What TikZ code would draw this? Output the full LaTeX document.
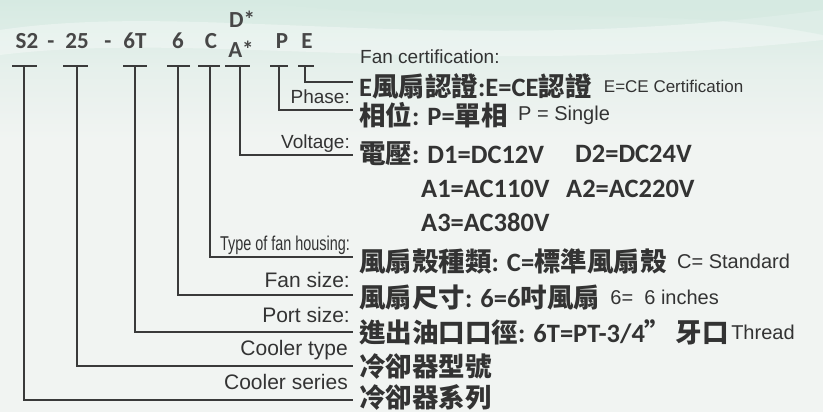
\documentclass[tikz,border=0pt]{standalone}
\usepackage{fontspec}
\usepackage{graphicx}
\setmainfont{Liberation Sans}
\newfontfamily\cjk{Noto Sans CJK TC}
\newfontfamily\lat{Carlito}
\newcommand\zh[1]{{\cjk #1}}
\usetikzlibrary{calc}
\definecolor{ink}{HTML}{333333}
\definecolor{wire}{HTML}{3A3A3A}
\definecolor{bgtop}{HTML}{D6EAE2}
\definecolor{bgbot}{HTML}{F1F4F2}
\tikzset{
  wirel/.style={draw=wire,line width=1.6pt},
  code/.style={anchor=base,inner sep=0pt,text=ink!90,font=\lat\bfseries\fontsize{23bp}{25bp}\selectfont},
  big/.style={anchor=west,inner sep=0pt,text=ink,font=\lat\bfseries\fontsize{26.5bp}{29bp}\selectfont},
  en/.style={anchor=base east,inner sep=0pt,text=ink,font=\fontsize{19bp}{21bp}\selectfont},
  enb/.style={anchor=base east,inner sep=0pt,text=ink,font=\fontsize{21bp}{23bp}\selectfont},
  small/.style={anchor=west,inner sep=0pt,text=ink,font=\fontsize{17bp}{19bp}\selectfont},
  mid/.style={anchor=west,inner sep=0pt,text=ink,font=\fontsize{20bp}{22bp}\selectfont},
}
\begin{document}
\begin{tikzpicture}[x=1bp,y=-1bp]
\useasboundingbox (0,0) rectangle (823,412);
\shade[top color=bgtop,bottom color=bgbot,middle color=bgbot!60!bgtop] (0,0) rectangle (823,140);
\fill[bgbot] (0,140) rectangle (823,412);
\fill[white,opacity=0.35] (0,30) .. controls (200,0) and (450,60) .. (823,10) -- (823,40) .. controls (450,80) and (200,30) .. (0,55) -- cycle;
\fill[bgtop,opacity=0.5] (250,0) .. controls (450,30) and (650,0) .. (823,35) -- (823,0) -- cycle;

% code letters
\node[code] (s2) at (27,48) {S2};
\node[code] (d1) at (51,48) {-};
\node[code] (n25) at (77,48) {25};
\node[code] (d2) at (108,48) {-};
\node[code] (t6) at (135,48) {6T};
\node[code] (f6) at (178,48) {6};
\node[code] (cc) at (211,48) {C};
\node[code] (dd) at (242,27) {D*};
\node[code] (aa) at (241,57) {A*};
\node[code] (pp) at (282,48) {P};
\node[code] (ee) at (307,48) {E};

% T bars and connectors
\foreach \l/\r/\v/\n in {12/37/24/s2,63/88/77/n25,123/147/135/t6,167/190/178/f6,198/220/210/c,225/250/240/a,270/288/279/p,298/314/305/e}{
  \draw[wirel] (\l,66) -- (\r,66);
  \coordinate (v\n) at (\v,66);
}
\coordinate (ende) at (353,82);
\coordinate (endp) at (353,110);
\coordinate (enda) at (353,155);
\coordinate (endc) at (353,257);
\coordinate (endf) at (353,295);
\coordinate (endt) at (353,332);
\coordinate (endn) at (353,366);
\coordinate (ends) at (353,400);
\draw[wirel] (ve) |- (ende);
\draw[wirel] (vp) |- (endp);
\draw[wirel] (va) |- (enda);
\draw[wirel] (vc) |- (endc);
\draw[wirel] (vf6) |- (endf);
\draw[wirel] (vt6) |- (endt);
\draw[wirel] (vn25) |- (endn);
\draw[wirel] (vs2) |- (ends);

% english labels
\node[small,anchor=base west,font=\fontsize{19bp}{21bp}\selectfont] (lcert) at (360,63) {Fan certification:};
\node[en] (lph) at (350,103) {Phase:};
\node[en] (lvo) at (350,148) {Voltage:};
\node[en] (lty) at (350,250) {\scalebox{0.72}[1]{\fontsize{20bp}{22bp}\selectfont Type of fan housing:}};
\node[enb] (lfs) at (350,287) {Fan size:};
\node[enb] (lps) at (350,322) {Port size:};
\node[enb] (lct) at (348,355) {Cooler type};
\node[enb] (lcs) at (348,389) {Cooler series};

% chinese lines
\node[big] (c1) at (359,86) {E\zh{風扇認證}:E=CE\zh{認證}};
\node[small] (c1e) at ($(c1.east)+(12,0)$) {E=CE Certification};
\node[big] (c2) at (359,115) {\zh{相位}: P=\zh{單相}};
\node[mid] (c2e) at ($(c2.east)+(10,0)$) {P = Single};
\node[big] (c3) at (359,154) {\zh{電壓}: D1=DC12V};
\node[big] (c3b) at (575,154) {D2=DC24V};
\node[big] (c4) at (421,189) {A1=AC110V};
\node[big] (c4b) at (566,189) {A2=AC220V};
\node[big] (c5) at (421,222) {A3=AC380V};
\node[big] (c6) at (359,261) {\zh{風扇殼種類}: C=\zh{標準風扇殼}};
\node[mid] (c6e) at ($(c6.east)+(10,0)$) {C= Standard};
\node[big] (c7) at (359,297) {\zh{風扇尺寸}: 6=6\zh{吋風扇}};
\node[mid] (c7e) at ($(c7.east)+(10,0)$) {6=\ \ 6 inches};
\node[big] (c8) at (359,332) {\zh{進出油口口徑}: 6T=PT-3/4\zh{”\,牙口}};
\node[mid] (c8e) at ($(c8.east)+(2,0)$) {Thread};
\node[big] (c9) at (359,366) {\zh{冷卻器型號}};
\node[big] (c10) at (359,397) {\zh{冷卻器系列}};
\end{tikzpicture}
\end{document}
